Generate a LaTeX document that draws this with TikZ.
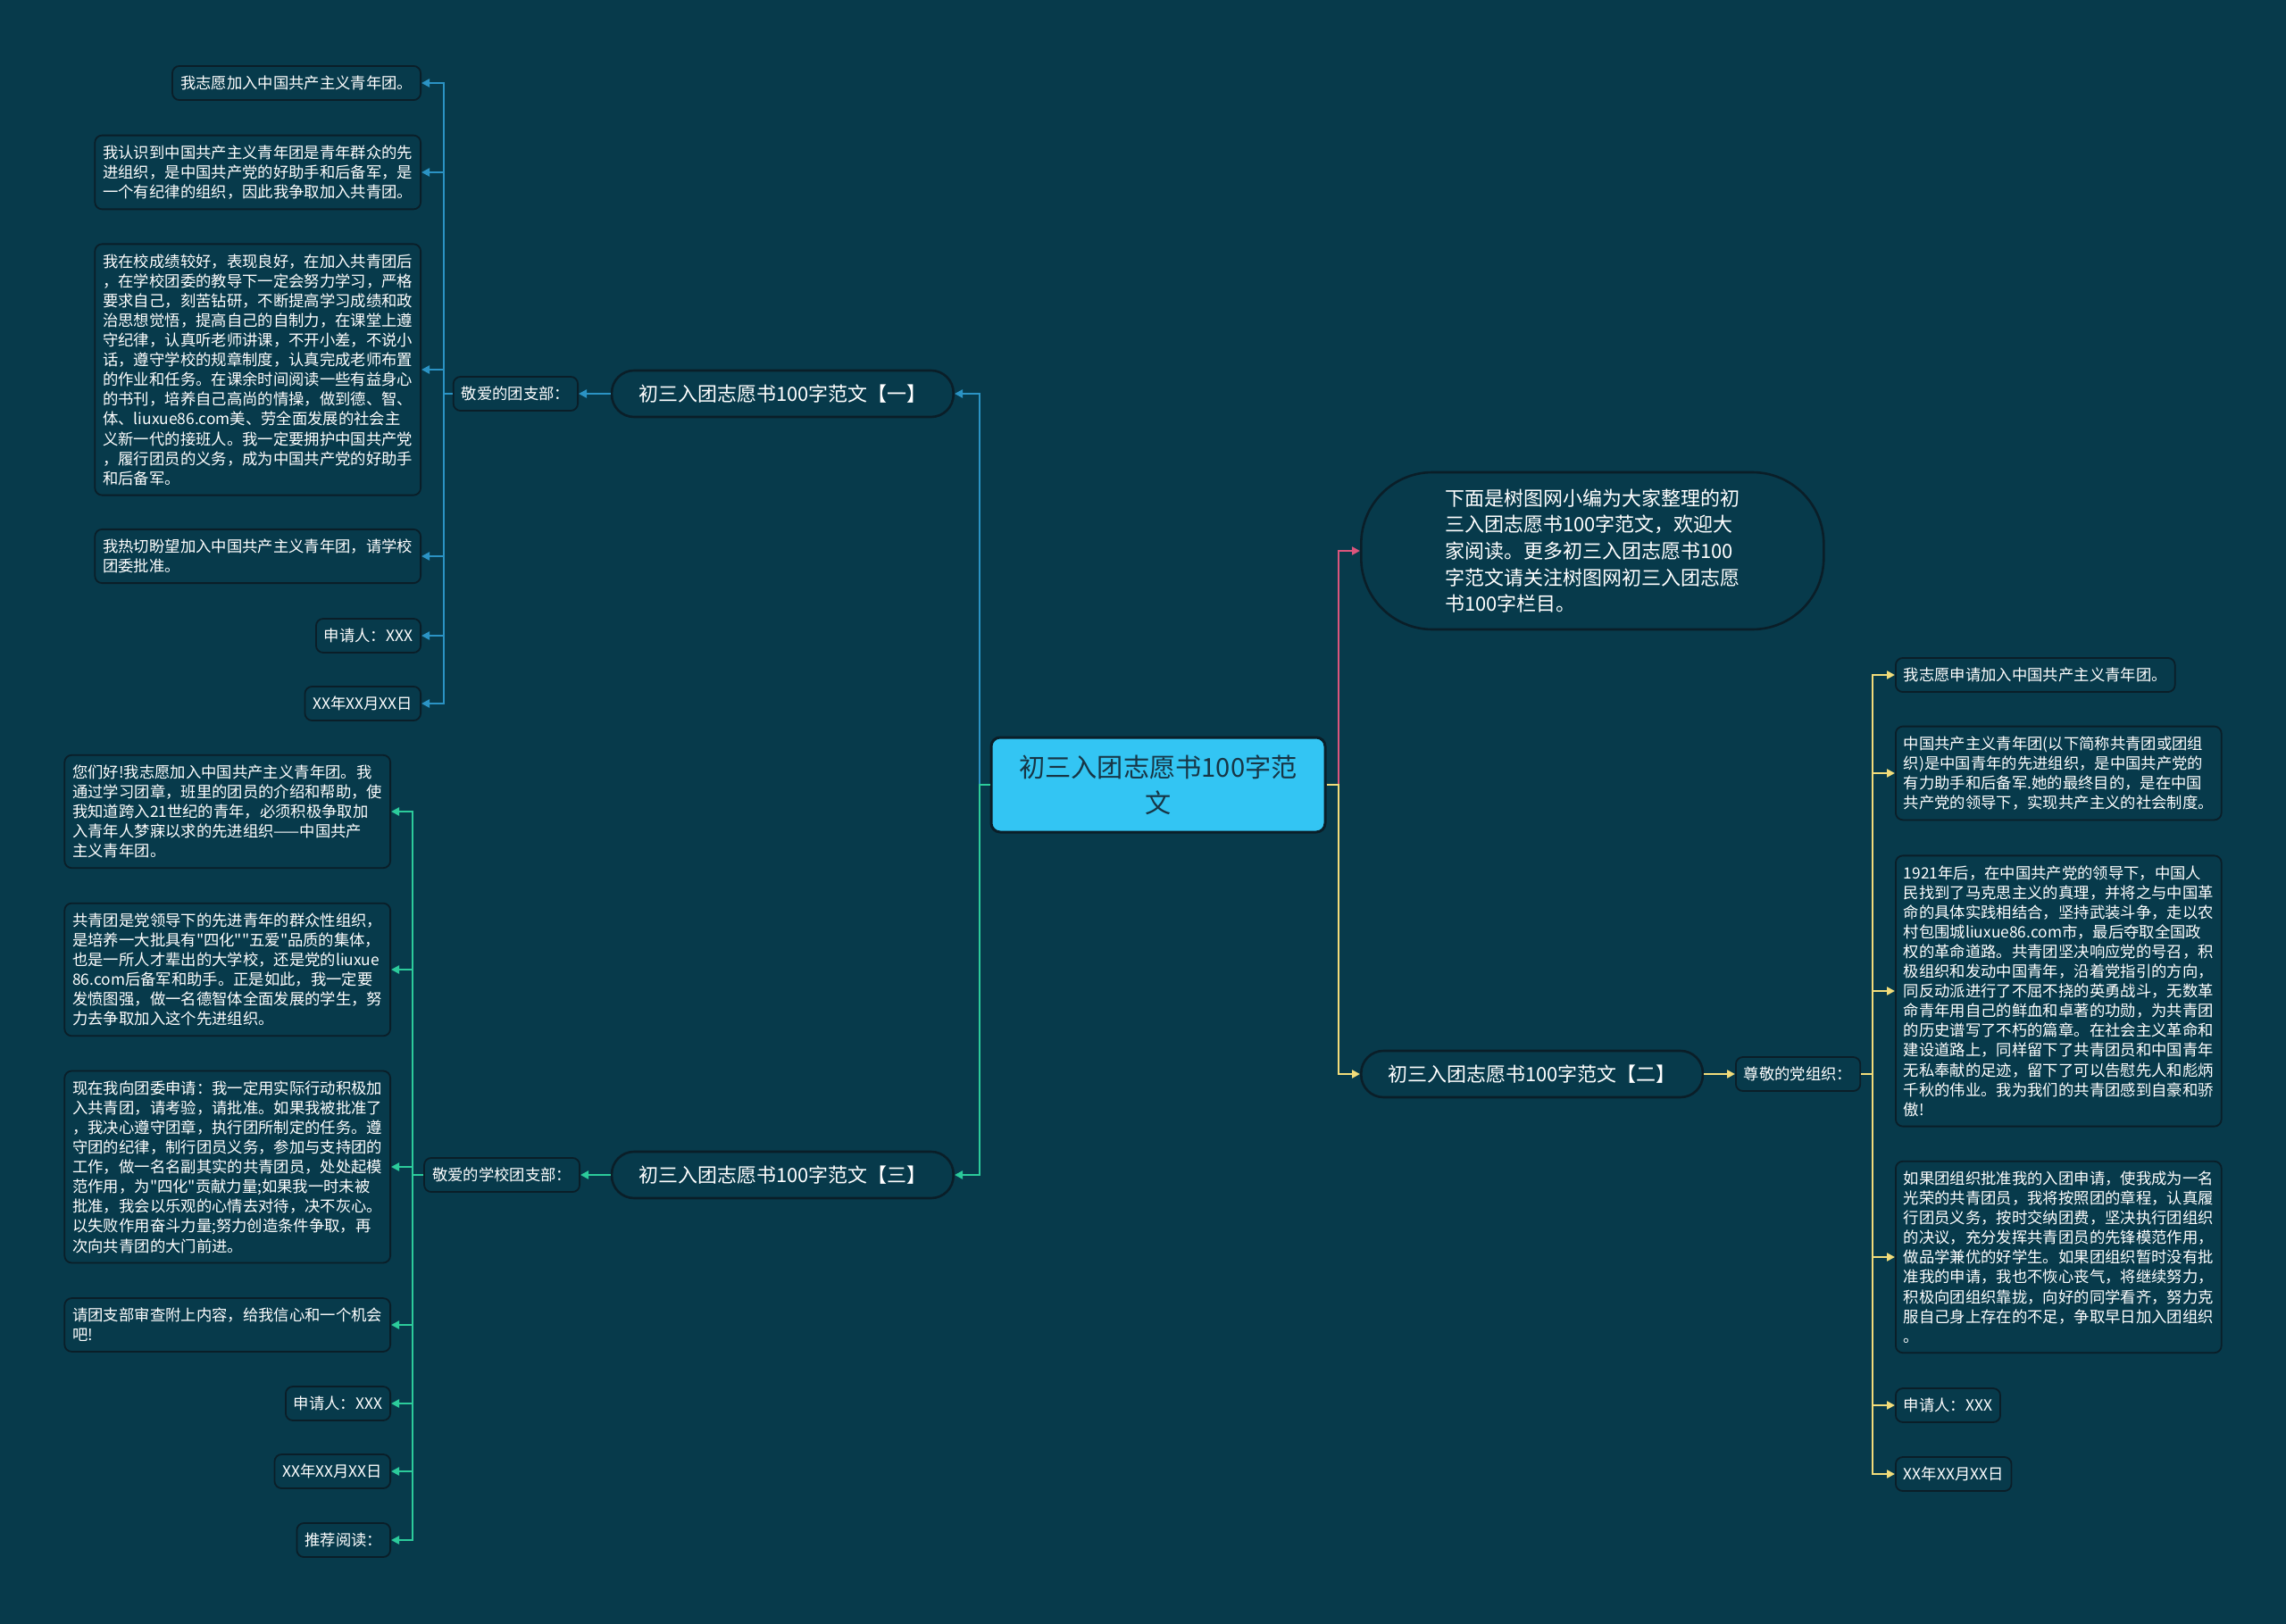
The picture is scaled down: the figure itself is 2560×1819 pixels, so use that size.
\documentclass[tikz,border=0pt]{standalone}
\usepackage{fontspec}
\setmainfont{Noto Sans CJK SC}
\newfontfamily\tbfont{Noto Sans CJK SC}
\usetikzlibrary{arrows.meta,positioning}
\definecolor{tbbg}{HTML}{073A4B}
\definecolor{tbdark}{HTML}{0A1E28}
\definecolor{tbcyan}{HTML}{33C5F3}
\definecolor{tbink}{HTML}{173545}
\definecolor{tbblue}{HTML}{2B93C4}
\definecolor{tbgreen}{HTML}{2CCB9B}
\definecolor{tbpink}{HTML}{DA557C}
\definecolor{tbyellow}{HTML}{F2DC7A}

\begin{document}
\begin{tikzpicture}[x=0.5pt,y=-0.5pt,
  rootNode/.style={draw=tbdark,fill=tbcyan,line width=1.5pt,rounded corners=5pt,
    align=center,text=tbink,font=\tbfont\fontsize{14.6pt}{20pt}\selectfont,
    minimum width=187pt,minimum height=53pt,inner sep=0pt},
  pillNode/.style={draw=tbdark,fill=tbbg,line width=1.3pt,rounded corners=12.5pt,
    text=white,font=\tbfont\fontsize{11pt}{14.8pt}\selectfont,minimum height=26pt,inner xsep=15pt},
  subNode/.style={draw=tbdark,fill=tbbg,line width=0.9pt,rounded corners=4pt,text=white,
    font=\tbfont\fontsize{8.67pt}{11.05pt}\selectfont,inner xsep=4.5pt,inner ysep=5.5pt},
  leafNode/.style={subNode,align=left},
  link/.style={line width=1.4pt},
  tip/.style={-{Triangle[length=4.5pt,width=4.5pt]}},
]
\fill[tbbg] (0,0) rectangle (2560,1819);
\useasboundingbox (0,0) rectangle (2560,1819);

% root and main branches
\node[rootNode] (root) at (1297,879) {初三入团志愿书100字范\\文};
\node[pillNode,anchor=east] (b1) at (1069,441) {初三入团志愿书100字范文【一】};
\node[pillNode,anchor=east] (b3) at (1069,1316) {初三入团志愿书100字范文【三】};
\node[pillNode,anchor=west] (b2) at (1523,1203) {初三入团志愿书100字范文【二】};
\node[pillNode,anchor=west,align=left,rounded corners=40pt,minimum width=259pt,
  minimum height=88pt] (intro) at (1523,617)
  {下面是树图网小编为大家整理的初\\三入团志愿书100字范文，欢迎大\\家阅读。更多初三入团志愿书100\\字范文请关注树图网初三入团志愿\\书100字栏目。};

\coordinate (tl) at (1097,879);
\coordinate (tr) at (1499,879);
\draw[link,tbblue,tip] (root.west) -- (tl) |- (b1.east);
\draw[link,tbgreen,tip] (root.west) -- (tl) |- (b3.east);
\draw[link,tbpink,tip] (root.east) -- (tr) |- (intro.west);
\draw[link,tbyellow,tip] (root.east) -- (tr) |- (b2.west);

% sub nodes
\node[subNode,anchor=east] (s1) at (648,441) {敬爱的团支部：};
\node[subNode,anchor=east] (s3) at (650,1316) {敬爱的学校团支部：};
\node[subNode,anchor=west] (s2) at (1943,1203) {尊敬的党组织：};
\draw[link,tbblue,tip] (b1.west) -- (s1.east);
\draw[link,tbgreen,tip] (b3.west) -- (s3.east);
\draw[link,tbyellow,tip] (b2.east) -- (s2.west);

% branch one
\node[leafNode,anchor=east] (a1) at (472,93) {我志愿加入中国共产主义青年团。};
\node[leafNode,anchor=east] (a2) at (472,193) {我认识到中国共产主义青年团是青年群众的先\\进组织，是中国共产党的好助手和后备军，是\\一个有纪律的组织，因此我争取加入共青团。};
\node[leafNode,anchor=east] (a3) at (472,414) {我在校成绩较好，表现良好，在加入共青团后\\，在学校团委的教导下一定会努力学习，严格\\要求自己，刻苦钻研，不断提高学习成绩和政\\治思想觉悟，提高自己的自制力，在课堂上遵\\守纪律，认真听老师讲课，不开小差，不说小\\话，遵守学校的规章制度，认真完成老师布置\\的作业和任务。在课余时间阅读一些有益身心\\的书刊，培养自己高尚的情操，做到德、智、\\体、liuxue86.com美、劳全面发展的社会主\\义新一代的接班人。我一定要拥护中国共产党\\，履行团员的义务，成为中国共产党的好助手\\和后备军。};
\node[leafNode,anchor=east] (a4) at (472,623) {我热切盼望加入中国共产主义青年团，请学校\\团委批准。};
\node[leafNode,anchor=east] (a5) at (472,712) {申请人：XXX};
\node[leafNode,anchor=east] (a6) at (472,788) {XX年XX月XX日};
\coordinate (j1) at (497,441);
\draw[link,tbblue] (s1.west) -- (j1);
\foreach \lf in {a1,a2,a3,a4,a5,a6}
  \draw[link,tbblue,tip] (j1) |- (\lf.east);

% branch three
\node[leafNode,anchor=east] (c1) at (438,909) {您们好!我志愿加入中国共产主义青年团。我\\通过学习团章，班里的团员的介绍和帮助，使\\我知道跨入21世纪的青年，必须积极争取加\\入青年人梦寐以求的先进组织——中国共产\\主义青年团。};
\node[leafNode,anchor=east] (c2) at (438,1086) {共青团是党领导下的先进青年的群众性组织，\\是培养一大批具有"四化""五爱"品质的集体，\\也是一所人才辈出的大学校，还是党的liuxue\\86.com后备军和助手。正是如此，我一定要\\发愤图强，做一名德智体全面发展的学生，努\\力去争取加入这个先进组织。};
\node[leafNode,anchor=east] (c3) at (438,1307) {现在我向团委申请：我一定用实际行动积极加\\入共青团，请考验，请批准。如果我被批准了\\，我决心遵守团章，执行团所制定的任务。遵\\守团的纪律，制行团员义务，参加与支持团的\\工作，做一名名副其实的共青团员，处处起模\\范作用，为"四化"贡献力量;如果我一时未被\\批准，我会以乐观的心情去对待，决不灰心。\\以失败作用奋斗力量;努力创造条件争取，再\\次向共青团的大门前进。};
\node[leafNode,anchor=east] (c4) at (438,1484) {请团支部审查附上内容，给我信心和一个机会\\吧!};
\node[leafNode,anchor=east] (c5) at (438,1572) {申请人：XXX};
\node[leafNode,anchor=east] (c6) at (438,1648) {XX年XX月XX日};
\node[leafNode,anchor=east] (c7) at (438,1725) {推荐阅读：};
\coordinate (j3) at (462,1316);
\draw[link,tbgreen] (s3.west) -- (j3);
\foreach \lf in {c1,c2,c3,c4,c5,c6,c7}
  \draw[link,tbgreen,tip] (j3) |- (\lf.east);

% branch two
\node[leafNode,anchor=west] (d1) at (2122,756) {我志愿申请加入中国共产主义青年团。};
\node[leafNode,anchor=west] (d2) at (2122,866) {中国共产主义青年团(以下简称共青团或团组\\织)是中国青年的先进组织，是中国共产党的\\有力助手和后备军.她的最终目的，是在中国\\共产党的领导下，实现共产主义的社会制度。};
\node[leafNode,anchor=west] (d3) at (2122,1110) {1921年后，在中国共产党的领导下，中国人\\民找到了马克思主义的真理，并将之与中国革\\命的具体实践相结合，坚持武装斗争，走以农\\村包围城liuxue86.com市，最后夺取全国政\\权的革命道路。共青团坚决响应党的号召，积\\极组织和发动中国青年，沿着党指引的方向，\\同反动派进行了不屈不挠的英勇战斗，无数革\\命青年用自己的鲜血和卓著的功勋，为共青团\\的历史谱写了不朽的篇章。在社会主义革命和\\建设道路上，同样留下了共青团员和中国青年\\无私奉献的足迹，留下了可以告慰先人和彪炳\\千秋的伟业。我为我们的共青团感到自豪和骄\\傲!};
\node[leafNode,anchor=west] (d4) at (2122,1408) {如果团组织批准我的入团申请，使我成为一名\\光荣的共青团员，我将按照团的章程，认真履\\行团员义务，按时交纳团费，坚决执行团组织\\的决议，充分发挥共青团员的先锋模范作用，\\做品学兼优的好学生。如果团组织暂时没有批\\准我的申请，我也不恢心丧气，将继续努力，\\积极向团组织靠拢，向好的同学看齐，努力克\\服自己身上存在的不足，争取早日加入团组织\\。};
\node[leafNode,anchor=west] (d5) at (2122,1574) {申请人：XXX};
\node[leafNode,anchor=west] (d6) at (2122,1651) {XX年XX月XX日};
\coordinate (j2) at (2097,1203);
\draw[link,tbyellow] (s2.east) -- (j2);
\foreach \lf in {d1,d2,d3,d4,d5,d6}
  \draw[link,tbyellow,tip] (j2) |- (\lf.west);
\end{tikzpicture}
\end{document}
